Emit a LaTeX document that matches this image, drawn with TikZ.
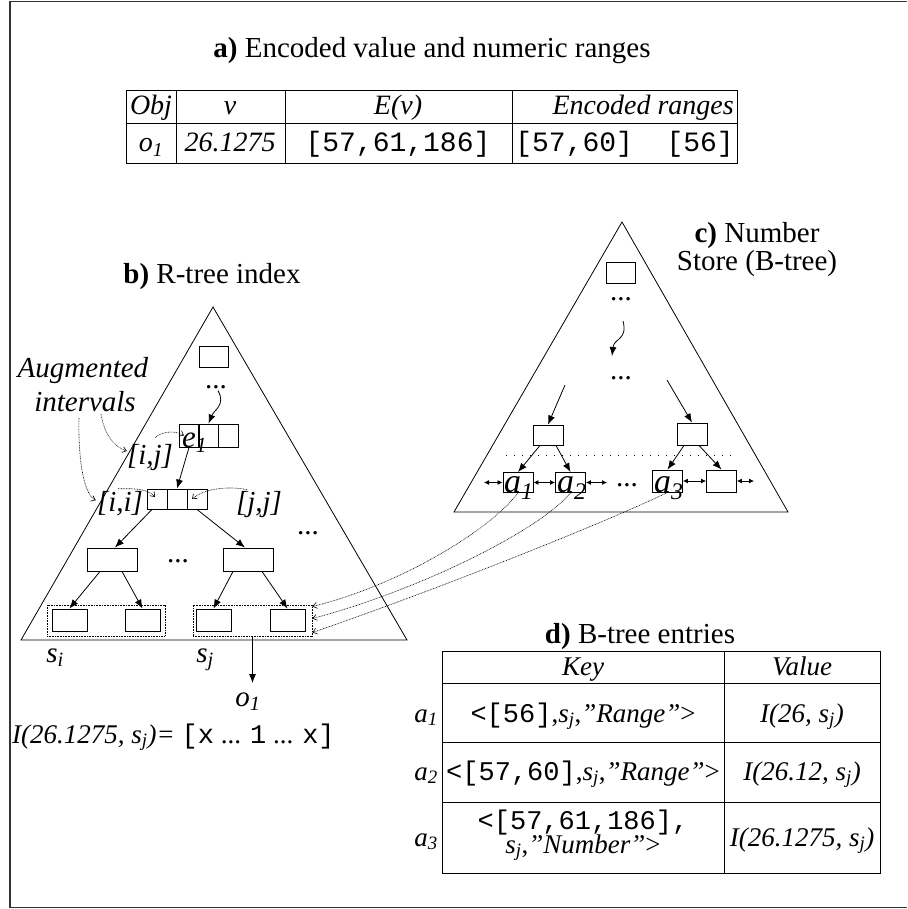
\documentclass[tikz,border=0pt]{standalone}
\usepackage{fontspec}
\setmainfont{Liberation Serif}
\setmonofont{Liberation Mono}
\usetikzlibrary{arrows.meta,calc}
\newcommand{\isub}[2]{\textit{#1\textsubscript{#2}}}
\newcommand{\sj}{\isub{s}{j}}
\begin{document}
\begin{tikzpicture}[x=1pt,y=-1pt,
  box/.style={draw, inner sep=0pt, line width=0.9pt},
  arr/.style={-{Latex[length=9pt,width=7pt]}, line width=0.8pt},
  darr/.style={{Latex[length=5pt,width=5pt]}-{Latex[length=5pt,width=5pt]}, line width=0.8pt},
  dotarr/.style={dash pattern=on 0.8pt off 0.8pt, line width=0.6pt, -{Straight Barb[length=4pt,width=6pt]}},
  grp/.style={draw, dash pattern=on 0.8pt off 0.8pt, line width=0.8pt, inner sep=0pt},
  big/.style={font=\fontsize{29}{32}\selectfont, inner sep=0pt},
  mid/.style={font=\fontsize{28}{30}\selectfont, inner sep=0pt},
  sml/.style={font=\fontsize{27}{29}\selectfont, inner sep=0pt},
  lbl/.style={font=\fontsize{34}{36}\selectfont, inner sep=0pt},
  tri/.style={line width=0.8pt}
]
\useasboundingbox (0,0) rectangle (907,909);
% frame
\draw[line width=1.5pt, black!80] (907,1.5) -- (10,1.5) -- (10,907.5) -- (907,907.5);

% ---------- a) table ----------
\node[big, anchor=base] (ta) at (432,58) {\textbf{a)} Encoded value and numeric ranges};
\draw[line width=0.9pt] (126,90) rectangle (737,163);
\draw[line width=0.9pt] (126,123) -- (737,123);
\draw[line width=0.9pt] (176,90) -- (176,163);
\draw[line width=0.9pt] (285,90) -- (285,163);
\draw[line width=0.9pt] (512,90) -- (512,163);
\node[mid, anchor=base] (hobj) at (151,115) {\textit{Obj}};
\node[mid, anchor=base] (hv) at (230,115) {\textit{v}};
\node[mid, anchor=base] (hev) at (398,115) {\textit{E(v)}};
\node[mid, anchor=base east] (henc) at (734,115) {\textit{Encoded ranges}};
\node[mid, anchor=base] (obj) at (151,152) {\isub{o}{1}};
\node[mid, anchor=base] (val) at (230,152) {\textit{26.1275}};
\node[mid, anchor=base] (ev) at (398,152) {\texttt{[57,61,186]}};
\node[mid, anchor=base east] (enc) at (734,152) {\texttt{[57,60]~~[56]}};

% ---------- b) R-tree ----------
\node[big, anchor=base] (tb) at (212,283) {\textbf{b)} R-tree index};
\draw[tri] (213,307) -- (21,640) -- (407,640) -- cycle;
\node[big, anchor=base] (aug1) at (83,377) {\textit{Augmented}};
\node[big, anchor=base] (aug2) at (85,411) {\textit{intervals}};
\node[box, minimum width=29pt, minimum height=21pt] (broot) at (213.5,356.5) {};
\node[big, anchor=base] (bd1) at (216,388) {...};
\node[box, minimum width=20pt, minimum height=23pt] (e1a) at (189,435.5) {};
\node[box, minimum width=20pt, minimum height=23pt] (e1b) at (208.5,435.5) {};
\node[box, minimum width=20pt, minimum height=23pt] (e1c) at (228,435.5) {};
\node[font=\fontsize{31}{33}\selectfont, inner sep=0pt, anchor=base west] (e1t) at (182,447) {\isub{e}{1}};
\node[box, minimum width=20pt, minimum height=20pt] (L2a) at (157,499) {};
\node[box, minimum width=20pt, minimum height=20pt] (L2b) at (177,499) {};
\node[box, minimum width=20pt, minimum height=20pt] (L2c) at (197,499) {};
\node[big, anchor=base] (lij) at (150,464) {\textit{[i,j]}};
\node[big, anchor=base] (lii) at (120,511) {\textit{[i,i]}};
\node[big, anchor=base] (ljj) at (259,511) {\textit{[j,j]}};
\node[big, anchor=base] (bd3) at (308,534) {...};
\node[box, minimum width=50pt, minimum height=23pt] (L3a) at (112,559.5) {};
\node[box, minimum width=50pt, minimum height=23pt] (L3b) at (248,559.5) {};
\node[big, anchor=base] (bd2) at (178,562) {...};
\node[grp, minimum width=118pt, minimum height=31pt] (g1) at (106,620.5) {};
\node[grp, minimum width=119pt, minimum height=31pt] (g2) at (252.5,620.5) {};
\node[box, minimum width=35pt, minimum height=22pt] (lf1) at (69.5,620) {};
\node[box, minimum width=35pt, minimum height=22pt] (lf2) at (142.5,620) {};
\node[box, minimum width=35pt, minimum height=22pt] (lf3) at (213.5,620) {};
\node[box, minimum width=35pt, minimum height=22pt] (lf4) at (287.5,620) {};
\node[big, anchor=base] (si) at (55,662) {\isub{s}{i}};
\node[big, anchor=base] (sjl) at (205,662) {\sj};
\node[big, anchor=base] (o1) at (248,706) {\isub{o}{1}};
\coordinate (o1top) at (252.5,683);
\node[font=\fontsize{27}{29}\selectfont, inner sep=0pt, anchor=base west] (iline) at (12,743)
  {\textit{I(26.1275, }\sj\textit{)=} \texttt{[x} ... \texttt{1} ... \texttt{x]}};

% b) connectors
\draw[arr] ($(bd1.south)+(2,2)$) .. controls (226,405) and (214,410) .. (e1b.north);
\draw[arr] (e1a.south) -- (L2b.north);
\draw[arr] ($(L2a.south)+(-5,0)$) -- ($(L3a.north)+(3,0)$);
\draw[arr] (L2c.south) -- ($(L3b.north)+(-3,0)$);
\draw[arr] ($(L3a.south)+(-12,0)$) -- (lf1.north);
\draw[arr] ($(L3a.south)+(10,0)$) -- (lf2.north);
\draw[arr] ($(L3b.south)+(-15,0)$) -- (lf3.north);
\draw[arr] ($(L3b.south)+(14,0)$) -- (lf4.north);
\draw[arr] (g2.south) -- (o1top);
% augmented interval pointers
\coordinate (augA) at (101,414);
\coordinate (augB) at (79,418);
\draw[dotarr] (augA) .. controls (104,432) and (112,446) .. ($(lij.west)+(0,-6)$);
\draw[dotarr] (augB) .. controls (78,460) and (84,495) .. ($(lii.west)+(-1,-3)$);
\draw[dotarr] ($(lij.north)+(5,-6)$) .. controls (160,433) and (172,429) .. ($(e1a.center)+(-5,0)$);
\draw[dotarr] ($(lii.north)+(-2,-2)$) .. controls (128,489) and (146,487) .. ($(L2a.center)+(-2,-2)$);
\draw[dotarr] ($(ljj.north)+(-12,-1)$) .. controls (230,486) and (205,488) .. ($(L2c.center)+(-5,0)$);

% ---------- c) B-tree ----------
\node[big, anchor=base] (tc1) at (757,243) {\textbf{c)} Number};
\node[big, anchor=base] (tc2) at (757,270) {Store (B-tree)};
\draw[tri] (622,222) -- (454,512) -- (788,512) -- cycle;
\node[box, minimum width=29pt, minimum height=21pt] (croot) at (620.5,272.5) {};
\node[big, anchor=base] (cd1) at (621,300) {...};
\coordinate (cA) at (623,321);
\coordinate (cB) at (612,356);
\draw[arr] (cA) .. controls (628,340) and (614,338) .. (cB);
\node[big, anchor=base] (cd2) at (621,379) {...};
\node[box, minimum width=30pt, minimum height=20pt] (cm1) at (548,435) {};
\node[box, minimum width=30pt, minimum height=22pt] (cm2) at (692,434) {};
\coordinate (cL) at (565,385);
\coordinate (cR) at (667,380);
\draw[arr] (cL) -- (cm1.north);
\draw[arr] (cR) -- (cm2.north);
\draw[line width=0.8pt, dash pattern=on 1pt off 7pt] (506,455) -- (732,455);
\node[box, minimum width=30pt, minimum height=20pt] (ca1) at (518,482.5) {};
\node[box, minimum width=30pt, minimum height=20pt] (ca2) at (570.5,482.5) {};
\node[box, minimum width=30pt, minimum height=22pt] (ca3) at (667.5,481) {};
\node[box, minimum width=30pt, minimum height=22pt] (ca4) at (721.5,481) {};
\node[lbl, anchor=base west] (a1t) at (504,492) {\isub{a}{1}};
\node[lbl, anchor=base west] (a2t) at (557,492) {\isub{a}{2}};
\node[lbl, anchor=base west] (a3t) at (654,492) {\isub{a}{3}};
\draw[arr] ($(cm1.south)+(-8,0)$) -- (ca1.north);
\draw[arr] ($(cm1.south)+(8,0)$) -- (ca2.north);
\draw[arr] ($(cm2.south)+(-8,0)$) -- (ca3.north);
\draw[arr] ($(cm2.south)+(7,0)$) -- (ca4.north);
\coordinate (cl0) at (484,482.5);
\coordinate (cl3) at (607,482.5);
\coordinate (cl5) at (754,481);
\node[big, anchor=base] (cd3) at (627,486) {...};
\draw[darr] (cl0) -- (ca1.west);
\draw[darr] (ca1.east) -- (ca2.west);
\draw[darr] (ca2.east) -- (cl3);
\draw[darr] (ca3.east) -- (ca4.west);
\draw[darr] (ca4.east) -- (cl5);
% pointers to leaf group
\draw[dotarr] (ca1.south) .. controls (490,530) and (400,585) .. ($(g2.east)+(0,-14)$);
\draw[dotarr] (ca2.south) .. controls (540,530) and (420,590) .. ($(g2.east)+(0,-2)$);
\draw[dotarr] (ca3.south) .. controls (600,525) and (430,592) .. ($(g2.east)+(0,12)$);

% ---------- d) table ----------
\node[big, anchor=base] (td) at (640,643) {\textbf{d)} B-tree entries};
\draw[line width=0.9pt] (442,651) rectangle (880,873);
\draw[line width=0.9pt] (442,683) -- (880,683);
\draw[line width=0.9pt] (442,742) -- (880,742);
\draw[line width=0.9pt] (442,802) -- (880,802);
\draw[line width=0.9pt] (724,651) -- (724,873);
\node[sml, anchor=base] (hkey) at (583,675) {\textit{Key}};
\node[sml, anchor=base] (hval) at (802,675) {\textit{Value}};
\node[sml, anchor=base] (k1) at (583,722) {\texttt{<[56]},\sj,\textit{''Range''}>};
\node[sml, anchor=base] (v1) at (802,722) {\textit{I(26, }\sj\textit{)}};
\node[sml, anchor=base] (k2) at (583,780) {\texttt{<[57,60]},\sj,\textit{''Range''}>};
\node[sml, anchor=base] (v2) at (802,780) {\textit{I(26.12, }\sj\textit{)}};
\node[sml, anchor=base] (k3a) at (583,829) {\texttt{<[57,61,186],}};
\node[sml, anchor=base] (k3b) at (583,853) {\sj,\textit{''Number''}>};
\node[sml, anchor=base] (v3) at (802,846) {\textit{I(26.1275, }\sj\textit{)}};
\node[sml, anchor=base] (da1) at (426,722) {\isub{a}{1}};
\node[sml, anchor=base] (da2) at (426,780) {\isub{a}{2}};
\node[sml, anchor=base] (da3) at (426,846) {\isub{a}{3}};
\end{tikzpicture}
\end{document}
